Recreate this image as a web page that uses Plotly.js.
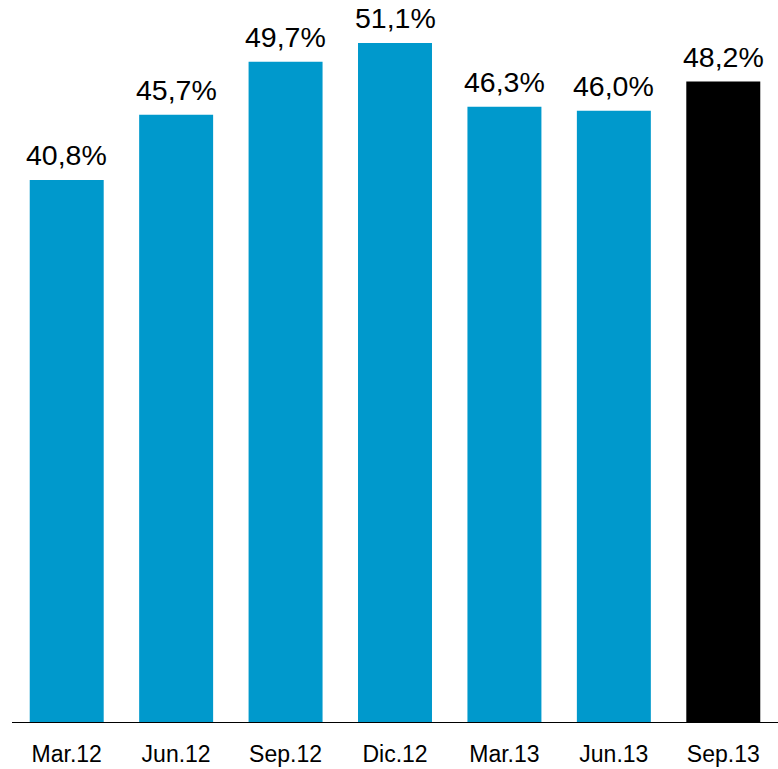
<!DOCTYPE html>
<html>
<head>
<meta charset="utf-8">
<script src="https://cdn.plot.ly/plotly-3.0.1.min.js"></script>
<style>html,body{margin:0;padding:0;background:#fff;}#chart{width:778px;height:769px;}</style>
</head>
<body>
<div id="chart"></div>
<script>
const categories = ["Mar.12", "Jun.12", "Sep.12", "Dic.12", "Mar.13", "Jun.13", "Sep.13"];
const values = [40.8, 45.7, 49.7, 51.1, 46.3, 46.0, 48.2];
const valueLabels = ["40,8%", "45,7%", "49,7%", "51,1%", "46,3%", "46,0%", "48,2%"];
const barColors = ["#0099CC", "#0099CC", "#0099CC", "#0099CC", "#0099CC", "#0099CC", "#000000"];

const trace = {
  type: "bar",
  x: categories,
  y: values,
  marker: {color: barColors},
  hoverinfo: "none"
};

const annotations = categories.map((c, i) => ({
  x: c, y: values[i], xref: "x", yref: "y",
  text: valueLabels[i], showarrow: false,
  yanchor: "bottom", yshift: 8, borderpad: 0,
  font: {family: "Liberation Sans, Arial, sans-serif", size: 28.5, color: "#000"}
}));

const layout = {
  width: 778, height: 769,
  margin: {l: 12, r: 0, t: 0, b: 47},
  paper_bgcolor: "#fff", plot_bgcolor: "#fff",
  bargap: 0.324,
  showlegend: false,
  font: {family: "Liberation Sans, Arial, sans-serif", color: "#000"},
  xaxis: {
    type: "category",
    showline: true, linecolor: "#000", linewidth: 1,
    ticks: "", showgrid: false, zeroline: false,
    ticklabelstandoff: 11,
    tickfont: {size: 23, color: "#000"}
  },
  yaxis: {
    range: [0, 54.34], visible: false, showgrid: false, zeroline: false
  },
  annotations: annotations
};

Plotly.newPlot("chart", [trace], layout, {displayModeBar: false, staticPlot: true});
</script>
</body>
</html>
